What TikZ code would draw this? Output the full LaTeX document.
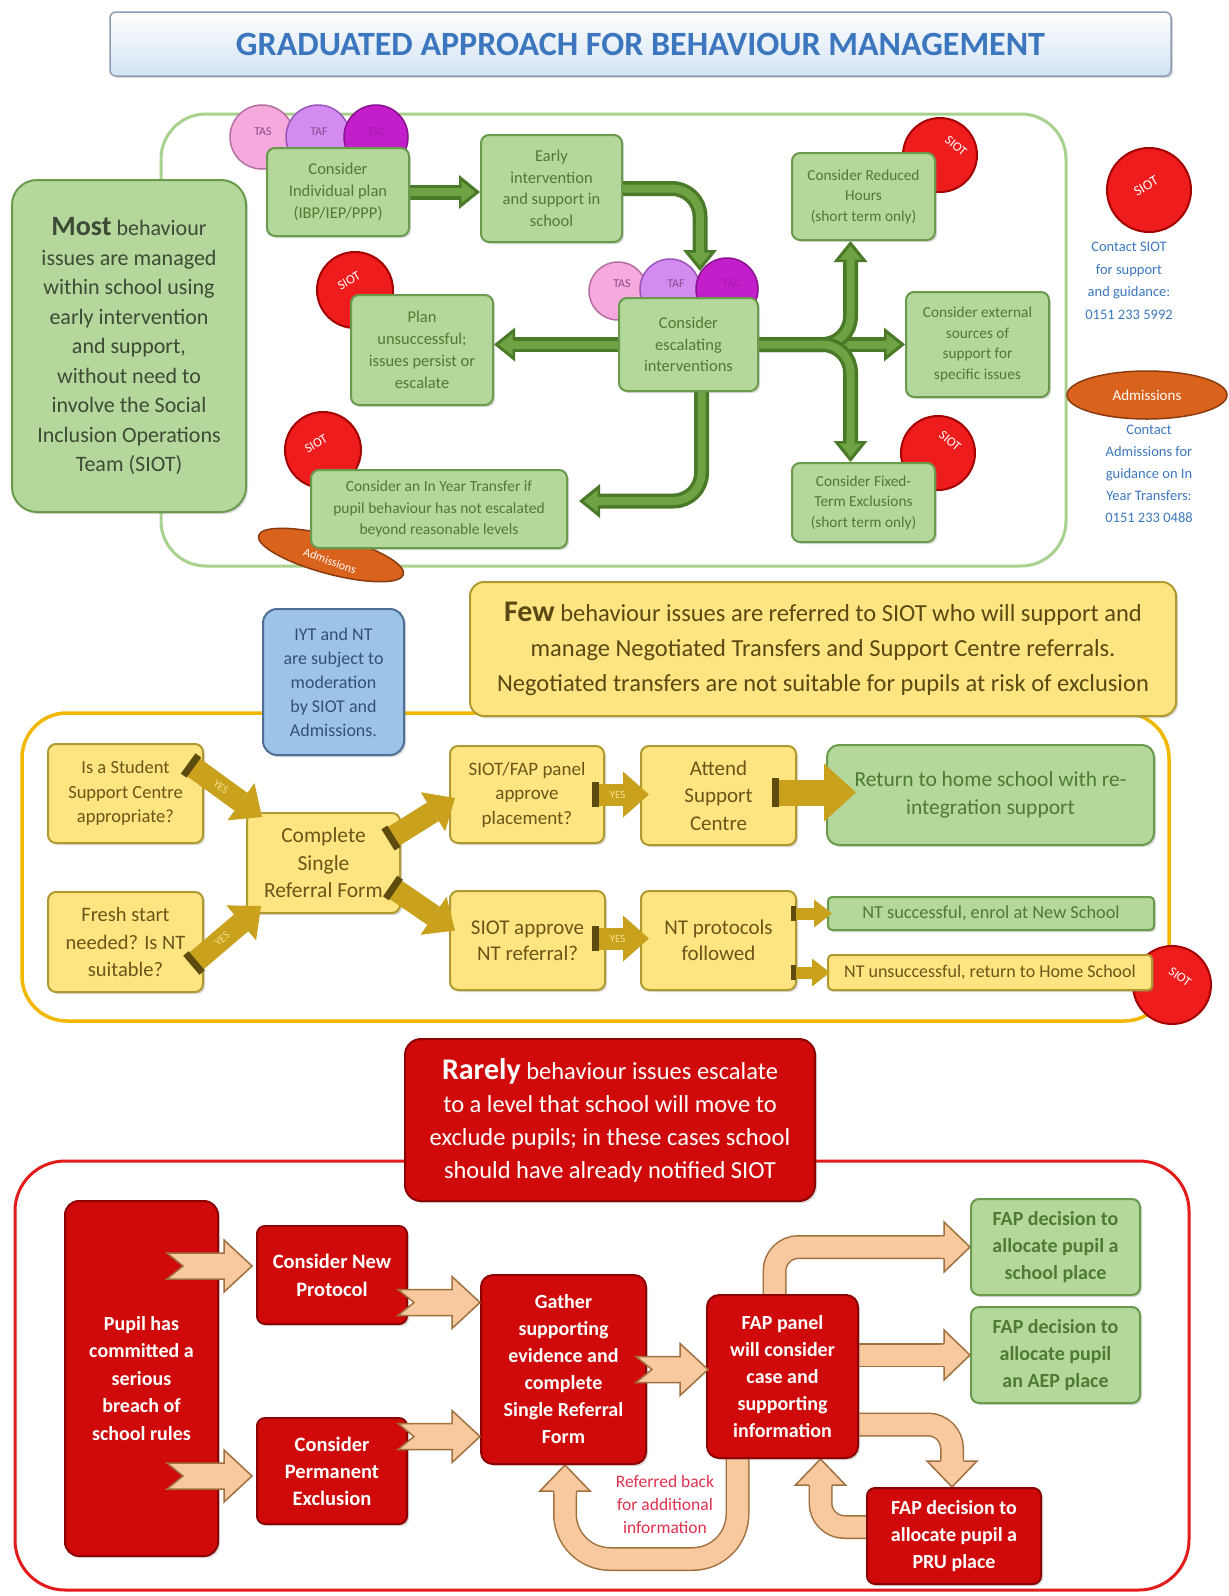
\documentclass[tikz,border=0pt]{standalone}
\usepackage{fontspec}
\setmainfont{Carlito}
\usetikzlibrary{calc,shadows,arrows.meta,shapes.geometric}
\pgfdeclarelayer{paper}
\pgfdeclarelayer{frames}
\pgfdeclarelayer{arrows}
\pgfsetlayers{paper,frames,arrows,main}
\newcommand\fsz[2]{\fontsize{#1}{#2}\selectfont}
\definecolor{gfill}{HTML}{B4D89C}
\definecolor{gbord}{HTML}{6A9A4C}
\definecolor{gtext}{HTML}{4E7A34}
\definecolor{gdark}{HTML}{4A7A28}
\definecolor{gmid}{HTML}{6FA243}
\definecolor{gframe}{HTML}{A9D18E}
\definecolor{mosttext}{HTML}{3D4A35}
\definecolor{yfill}{HTML}{FFE581}
\definecolor{ybord}{HTML}{B09A30}
\definecolor{ytext}{HTML}{6B5518}
\definecolor{fewtext}{HTML}{5A4913}
\definecolor{yframe}{HTML}{F2B800}
\definecolor{gold}{HTML}{C9A11C}
\definecolor{golddark}{HTML}{5E4C0E}
\definecolor{yestxt}{HTML}{F3E08F}
\definecolor{bfill}{HTML}{9DC3E6}
\definecolor{bbord}{HTML}{4F6F96}
\definecolor{btext}{HTML}{34507A}
\definecolor{rfill}{HTML}{D00A0A}
\definecolor{rbord}{HTML}{8C0000}
\definecolor{rframe}{HTML}{E41B1B}
\definecolor{pfill}{HTML}{F8C99F}
\definecolor{pbord}{HTML}{A0703E}
\definecolor{siotred}{HTML}{EE1C1C}
\definecolor{siotedge}{HTML}{A30000}
\definecolor{tascol}{HTML}{F5A9DC}
\definecolor{tasedge}{HTML}{B46FA0}
\definecolor{tastext}{HTML}{8A4B88}
\definecolor{tafcol}{HTML}{D38BF2}
\definecolor{tafedge}{HTML}{9A55B8}
\definecolor{taccol}{HTML}{C21FCB}
\definecolor{tacedge}{HTML}{8A1090}
\definecolor{tactext}{HTML}{A818B0}
\definecolor{admor}{HTML}{D9631C}
\definecolor{admedge}{HTML}{8A3B0E}
\definecolor{contact}{HTML}{3C78C0}
\definecolor{titleblue}{HTML}{3B76BE}
\definecolor{titlebord}{HTML}{8C9DB3}
\definecolor{titlefill}{HTML}{D3E3F3}
\definecolor{reftext}{HTML}{E0324E}
\tikzset{
  box/.style={rounded corners=8pt, align=center, inner sep=2pt, line width=2pt,
    drop shadow={opacity=0.3, shadow xshift=2pt, shadow yshift=-2pt}},
  gbox/.style={box, fill=gfill, draw=gbord, text=gtext},
  ybox/.style={box, fill=yfill, draw=ybord, text=ytext},
  rbox/.style={box, fill=rfill, draw=rbord, text=white, font={\bfseries\fsz{20}{27}}},
  tcirc/.style={circle, inner sep=0pt, line width=1.5pt},
  siot/.style={circle, inner sep=0pt, fill=siotred, draw=siotedge, line width=2pt, minimum size=#1},
  siottx/.style={text=white, font={\fsz{13}{13}}, inner sep=0pt},
  adm/.style={ellipse, fill=admor, draw=admedge, line width=1.5pt, inner sep=0pt},
  gout/.style={draw=gdark, line width=15pt, rounded corners=28pt, shorten >=19pt},
  gin/.style={draw=gmid, line width=8pt, rounded corners=28pt, shorten >=20pt},
  pout/.style={draw=pbord, line width=24pt, rounded corners=24pt, shorten >=25pt},
  pin/.style={draw=pfill, line width=21pt, rounded corners=24pt, shorten >=24pt},
  yarr/.style={draw=gold, line width=22pt, -{Triangle[width=46pt,length=26pt,line width=0pt]}},
  band/.style={fill=golddark, minimum width=7pt, minimum height=25pt, inner sep=0pt, sloped, pos=0},
  yeslab/.style={sloped, pos=0.42, text=yestxt, font={\fsz{11}{11}}, inner sep=0pt},
  pics/gtip/.style={code={
    \fill[gdark] (0,0) -- (-21,17) -- (-21,-17) -- cycle;
    \fill[gmid] (-5,0) -- (-18.5,10.8) -- (-18.5,4) -- (-23,4) -- (-23,-4) -- (-18.5,-4) -- (-18.5,-10.8) -- cycle;
  }},
  pics/ptip/.style={code={
    \fill[pfill] (0,0) -- (-26,25) -- (-26,10.5) -- (-29,10.5) -- (-29,-10.5) -- (-26,-10.5) -- (-26,-25) -- cycle;
    \draw[pbord, line width=1.5pt, line join=miter] (-26,11.5) -- (-26,25) -- (0,0) -- (-26,-25) -- (-26,-11.5);
  }},
  pics/notch/.style={code={
    \filldraw[fill=pfill, draw=pbord, line width=1.5pt, line join=miter]
      (0,0) -- (-28,26) -- (-28,13) -- (-#1,13) -- (-#1+16,0) -- (-#1,-13) -- (-28,-13) -- (-28,-26) -- cycle;
  }},
}
\begin{document}
\begin{tikzpicture}[x=1pt,y=-1pt]
\useasboundingbox (0,0) rectangle (1229,1596);
\begin{pgfonlayer}{paper}
\fill[white] (0,0) rectangle (1229,1596);
\end{pgfonlayer}

% ---------- frames ----------
\begin{pgfonlayer}{frames}
\draw[gframe, line width=3pt, rounded corners=45pt] (161,114) rectangle (1066,566);
\draw[yframe, line width=3.5pt, rounded corners=45pt] (22,713) rectangle (1169,1021);
\draw[rframe, line width=3pt, rounded corners=50pt] (15,1161) rectangle (1189,1590);
\end{pgfonlayer}

% ---------- title ----------
\node[draw=titlebord, line width=1.5pt, rounded corners=6pt, top color=white, bottom color=titlefill,
  minimum width=1061pt, minimum height=64pt, drop shadow={opacity=0.3, shadow xshift=2pt, shadow yshift=-2pt},
  text=titleblue, font={\bfseries\fsz{34}{38}}] (title) at (640.5,44) {GRADUATED APPROACH FOR BEHAVIOUR MANAGEMENT};

% ---------- top section ----------
\node[gbox, rounded corners=25pt, minimum width=234pt, minimum height=332pt, text=mosttext, font={\fsz{22}{29.5}}]
  (most) at (129,346) {{\bfseries\fsz{28}{29.5}Most} behaviour\\issues are managed\\within school using\\early intervention\\and support,\\without need to\\involve the Social\\Inclusion Operations\\Team (SIOT)};

\node[tcirc, fill=tascol, draw=tasedge, minimum size=64pt] (tas1) at (262,137) {};
\node[tcirc, fill=tafcol, draw=tafedge, minimum size=64pt] (taf1) at (318,137) {};
\node[tcirc, fill=taccol, draw=tacedge, minimum size=64pt] (tac1) at (376,137) {};
\node[text=tastext, font={\fsz{12}{12}}] (tas1t) at (263,132) {TAS};
\node[text=tastext, font={\fsz{12}{12}}] (taf1t) at (319,132) {TAF};
\node[text=tactext, font={\fsz{12}{12}}] (tac1t) at (377,132) {TAC};

\node[tcirc, fill=tascol, draw=tasedge, minimum size=58pt] (tas2) at (618,291) {};
\node[tcirc, fill=tafcol, draw=tafedge, minimum size=60pt] (taf2) at (670,289) {};
\node[tcirc, fill=taccol, draw=tacedge, minimum size=62pt] (tac2) at (727,289) {};
\node[text=tastext, font={\fsz{12}{12}}] (tas2t) at (622,284) {TAS};
\node[text=tastext, font={\fsz{12}{12}}] (taf2t) at (676,284) {TAF};
\node[text=tactext, font={\fsz{12}{12}}] (tac2t) at (732,284) {TAC};

\node[siot=76pt] (s1) at (355,290) {};
\node[siottx, rotate=30] (s1t) at (349,281) {SIOT};
\node[siot=74pt] (s2) at (940,155) {};
\node[siottx, rotate=-40] (s2t) at (956,146) {SIOT};
\node[siot=76pt] (s3) at (323,450) {};
\node[siottx, rotate=30] (s3t) at (316,444) {SIOT};
\node[siot=74pt] (s4) at (938,453) {};
\node[siottx, rotate=-40] (s4t) at (950,441) {SIOT};
\node[adm, minimum width=150pt, minimum height=38pt, rotate=-15] (adm1) at (331,555) {};
\node[text=white, font={\fsz{12}{12}}, rotate=-20] (adm1t) at (330,561) {Admissions};

\node[gbox, minimum width=142pt, minimum height=88pt, font={\fsz{16.5}{22}}] (ip) at (338,192) {Consider\\Individual plan\\(IBP/IEP/PPP)};
\node[gbox, minimum width=141pt, minimum height=107pt, font={\fsz{16.5}{21.5}}] (ei) at (551.5,188.5) {Early\\intervention\\and support in\\school};
\node[gbox, minimum width=139pt, minimum height=93pt, font={\fsz{16.5}{21.5}}] (esc) at (688.5,344.5) {Consider\\escalating\\interventions};
\node[gbox, minimum width=142pt, minimum height=110pt, font={\fsz{16.5}{22}}] (plan) at (422,350) {Plan\\unsuccessful;\\issues persist or\\escalate};
\node[gbox, minimum width=143pt, minimum height=87pt, font={\fsz{15.3}{20.5}}] (rh) at (863.5,196.5) {Consider Reduced\\Hours\\(short term only)};
\node[gbox, minimum width=143pt, minimum height=105pt, font={\fsz{15.3}{20.5}}] (ext) at (977.5,344.5) {Consider external\\sources of\\support for\\specific issues};
\node[gbox, minimum width=143pt, minimum height=79pt, font={\fsz{15.3}{20.5}}] (ft) at (863.5,502.5) {Consider Fixed-\\Term Exclusions\\(short term only)};
\node[gbox, minimum width=256pt, minimum height=78pt, font={\fsz{15.5}{21.5}}] (iyt) at (439,509) {Consider an In Year Transfer if\\pupil behaviour has not escalated\\beyond reasonable levels};

% right-hand contacts
\node[siot=84pt] (s5) at (1149,190) {};
\node[siottx, rotate=30, font={\fsz{14}{14}}] (s5t) at (1146,186) {SIOT};
\node[align=center, text=contact, font={\fsz{14.5}{22.5}}] (c1) at (1129,281) {Contact SIOT\\for support\\and guidance:\\0151 233 5992};
\node[adm, minimum width=160pt, minimum height=48pt] (adm2) at (1147,395) {};
\node[text=white, font={\fsz{15}{15}}] (adm2t) at (1147,395) {Admissions};
\node[align=center, text=contact, font={\fsz{14.5}{22}}] (c2) at (1149,474) {Contact\\Admissions for\\guidance on In\\Year Transfers:\\0151 233 0488};

% top arrows
\begin{pgfonlayer}{arrows}
\draw[gout] (ip.east) -- (ip.east -| ei.west);
\draw[gin] (ip.east) -- (ip.east -| ei.west);
\pic at (ip.east -| ei.west) {gtip};
\draw[gout] (esc.west) -- (esc.west -| plan.east);
\draw[gin] (esc.west) -- (esc.west -| plan.east);
\pic[rotate=180] at (esc.west -| plan.east) {gtip};
\draw[gout] (esc.east) -- (esc.east -| ext.west);
\draw[gin] (esc.east) -- (esc.east -| ext.west);
\pic at (esc.east -| ext.west) {gtip};
\draw[gout] (esc.east) -| ($(rh.south)+(-13,0)$);
\draw[gin] (esc.east) -| ($(rh.south)+(-13,0)$);
\pic[rotate=90] at ($(rh.south)+(-13,0)$) {gtip};
\draw[gout] (esc.east) -| ($(ft.north)+(-13,0)$);
\draw[gin] (esc.east) -| ($(ft.north)+(-13,0)$);
\pic[rotate=-90] at ($(ft.north)+(-13,0)$) {gtip};
\draw[gout] ($(esc.south)+(13,-5)$) |- ($(iyt.east)+(11,-8)$);
\draw[gin] ($(esc.south)+(13,-5)$) |- ($(iyt.east)+(11,-8)$);
\pic[rotate=180] at ($(iyt.east)+(11,-8)$) {gtip};
\end{pgfonlayer}
\draw[gout] (ei.east) -| ($(esc.north)+(11.5,-26)$);
\draw[gin] (ei.east) -| ($(esc.north)+(11.5,-26)$);
\pic[rotate=-90] at ($(esc.north)+(11.5,-26)$) {gtip};

% ---------- middle section ----------
\node[box, fill=bfill, draw=bbord, text=btext, rounded corners=14pt, minimum width=141pt, minimum height=146pt, font={\fsz{18}{24}}]
  (mod) at (333.5,682) {IYT and NT\\are subject to\\moderation\\by SIOT and\\Admissions.};
\node[box, fill=yfill, draw=ybord, text=fewtext, rounded corners=14pt, minimum width=706pt, minimum height=134pt, font={\fsz{24.5}{35}}]
  (few) at (823,649) {{\bfseries\fsz{30}{35}Few} behaviour issues are referred to SIOT who will support and\\manage Negotiated Transfers and Support Centre referrals.\\Negotiated transfers are not suitable for pupils at risk of exclusion};

\node[siot=78pt] (s6) at (1172,985) {};
\node[ybox, minimum width=155pt, minimum height=99pt, font={\fsz{18.5}{24.5}}] (ssc) at (125.5,793.5) {Is a Student\\Support Centre\\appropriate?};
\node[ybox, minimum width=155pt, minimum height=100pt, font={\fsz{20.5}{27.5}}] (fs) at (125.5,942) {Fresh start\\needed? Is NT\\suitable?};
\node[ybox, minimum width=153pt, minimum height=100pt, font={\fsz{21.5}{27.5}}] (srf) at (323.5,863) {Complete\\Single\\Referral Form};
\node[ybox, minimum width=154pt, minimum height=97pt, font={\fsz{19}{24.5}}] (sfp) at (527,794.5) {SIOT/FAP panel\\approve\\placement?};
\node[ybox, minimum width=155pt, minimum height=99pt, font={\fsz{21}{27.5}}] (asc) at (718.5,795.5) {Attend\\Support\\Centre};
\node[gbox, text=gtext, minimum width=327pt, minimum height=100pt, rounded corners=12pt, font={\fsz{21.5}{28.5}}] (ret) at (990.5,795) {Return to home school with re-\\integration support};
\node[ybox, minimum width=155pt, minimum height=99pt, font={\fsz{21}{26.5}}] (sna) at (527.5,940.5) {SIOT approve\\NT referral?};
\node[ybox, minimum width=155pt, minimum height=99pt, font={\fsz{21}{26.5}}] (ntp) at (718.5,940.5) {NT protocols\\followed};
\node[gbox, rounded corners=4pt, minimum width=326pt, minimum height=33pt, font={\fsz{18.3}{20}}] (nts) at (991,913.5) {NT successful, enrol at New School};
\node[ybox, rounded corners=4pt, minimum width=324pt, minimum height=35pt, font={\fsz{18}{20}}] (ntu) at (990,972.5) {NT unsuccessful, return to Home School};
\node[siottx, rotate=-35] (s6t) at (1180,977) {SIOT};

% gold arrows
\draw[yarr] ($(ssc.east)+(-13,-28)$) -- ($(srf.north west)+(16,5)$) node[band]{} node[yeslab]{YES};
\draw[yarr] ($(fs.east)+(-10,21)$) -- ($(srf.south west)+(15,-8)$) node[band]{} node[yeslab]{YES};
\draw[yarr] ($(srf.east)+(-10,-25)$) -- ($(sfp.south west)+(6,-46)$) node[band]{};
\draw[yarr] ($(srf.east)+(-8,25)$) -- ($(sna.west)+(6,-10)$) node[band]{};
\draw[yarr] ($(sfp.east)+(-10,0)$) -- ($(sfp.east -| asc.west)+(9,0)$) node[band]{} node[yeslab]{YES};
\draw[yarr, line width=26pt, -{Triangle[width=58pt,length=32pt,line width=0pt]}] ($(asc.east)+(-22,-3)$) -- ($(asc.east -| ret.west)+(30,-3)$) node[band, minimum height=29pt]{};
\draw[yarr] ($(sna.east)+(-11,-2)$) -- ($(sna.east -| ntp.west)+(9,-2)$) node[band]{} node[yeslab]{YES};
\draw[yarr, line width=12pt, -{Triangle[width=28pt,length=18pt,line width=0pt]}] ($(nts.west -| ntp.east)+(-4,0)$) -- ($(nts.west)+(5,0)$) node[band, minimum width=5pt, minimum height=15pt]{};
\draw[yarr, line width=12pt, -{Triangle[width=28pt,length=18pt,line width=0pt]}] ($(ntu.west -| ntp.east)+(-4,0)$) -- ($(ntu.west)+(3,0)$) node[band, minimum width=5pt, minimum height=15pt]{};

% ---------- bottom section ----------
\node[box, fill=rfill, draw=rbord, text=white, rounded corners=16pt, minimum width=410pt, minimum height=162pt, font={\fsz{24.5}{33}}]
  (rare) at (610,1120) {{\bfseries\fsz{30}{33}Rarely} behaviour issues escalate\\to a level that school will move to\\exclude pupils; in these cases school\\should have already notified SIOT};

\node[rbox, rounded corners=14pt, minimum width=153pt, minimum height=355pt, font={\bfseries\fsz{20}{27.5}}] (pupil) at (141.5,1378.5) {Pupil has\\committed a\\serious\\breach of\\school rules};
\node[rbox, minimum width=150pt, minimum height=98pt, font={\bfseries\fsz{20.5}{28}}] (cnp) at (332,1275) {Consider New\\Protocol};
\node[rbox, minimum width=150pt, minimum height=106pt, font={\bfseries\fsz{20.5}{27}}] (cpe) at (332,1471) {Consider\\Permanent\\Exclusion};
\node[rbox, rounded corners=12pt, minimum width=165pt, minimum height=189pt] (gather) at (563.5,1369.5) {Gather\\supporting\\evidence and\\complete\\Single Referral\\Form};
\node[rbox, rounded corners=12pt, minimum width=151pt, minimum height=163pt] (fap) at (782.5,1376.5) {FAP panel\\will consider\\case and\\supporting\\information};
\node[gbox, minimum width=169pt, minimum height=96pt, font={\bfseries\fsz{20}{27}}] (school) at (1055.5,1247) {FAP decision to\\allocate pupil a\\school place};
\node[gbox, minimum width=169pt, minimum height=96pt, font={\bfseries\fsz{20}{27}}] (aep) at (1055.5,1355) {FAP decision to\\allocate pupil\\an AEP place};
\node[rbox, minimum width=174pt, minimum height=96pt] (pru) at (954,1536) {FAP decision to\\allocate pupil a\\PRU place};
\node[align=center, text=reftext, font={\fsz{17.5}{23}}] (refback) at (665,1504) {Referred back\\for additional\\information};

\begin{pgfonlayer}{arrows}
\draw[pout] ($(fap.north)+(-8,8)$) |- (school.west);
\draw[pin] ($(fap.north)+(-8,8)$) |- (school.west);
\pic at (school.west) {ptip};
\draw[pout] ($(fap.east |- aep.west)+(-8,0)$) -- (aep.west);
\draw[pin] ($(fap.east |- aep.west)+(-8,0)$) -- (aep.west);
\pic at (aep.west) {ptip};
\draw[pout] ($(fap.east)+(-8,48)$) -| ($(pru.north)+(-2,0)$);
\draw[pin] ($(fap.east)+(-8,48)$) -| ($(pru.north)+(-2,0)$);
\pic[rotate=-90] at ($(pru.north)+(-2,0)$) {ptip};
\draw[pout] ($(pru.west)+(8,-9)$) -| ($(fap.south)+(38,0)$);
\draw[pin] ($(pru.west)+(8,-9)$) -| ($(fap.south)+(38,0)$);
\pic[rotate=90] at ($(fap.south)+(38,0)$) {ptip};
\draw[pout, rounded corners=45pt] ($(fap.south)+(-45,-8)$) |- ($(gather.south)+(1.5,94)$) -- ($(gather.south)+(1.5,0)$);
\draw[pin, rounded corners=45pt] ($(fap.south)+(-45,-8)$) |- ($(gather.south)+(1.5,94)$) -- ($(gather.south)+(1.5,0)$);
\pic[rotate=90] at ($(gather.south)+(1.5,0)$) {ptip};
\end{pgfonlayer}

\pic at ($(cnp.west)+(-4,-9)$) {notch=85};
\pic at ($(cpe.west)+(-4,5)$) {notch=85};
\pic at ($(gather.west)+(0,-67)$) {notch=82};
\pic at ($(gather.west)+(0,67)$) {notch=82};
\pic at ($(fap.west)+(2,-7)$) {notch=72};
\end{tikzpicture}
\end{document}
